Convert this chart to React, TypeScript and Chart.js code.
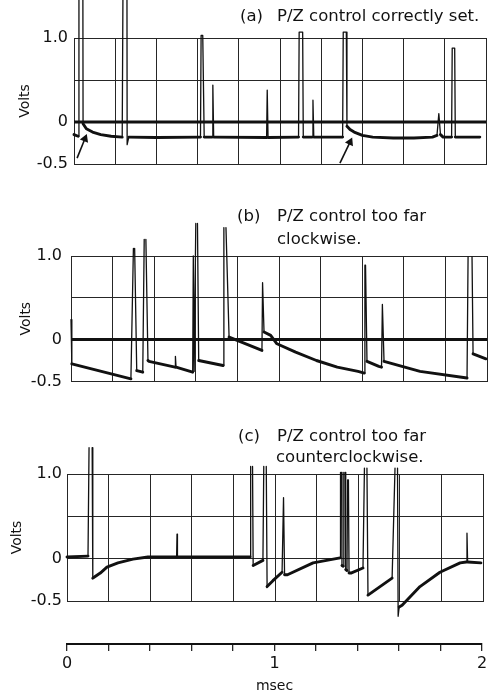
import React, { useEffect, useRef } from 'react';
import { Chart, registerables } from 'chart.js';

Chart.register(...registerables);
Chart.defaults.font.family = "'DejaVu Sans', sans-serif";

const INK = '#111111';
const GRID = '#262626';

// ---- axis ticks ----
const msecTicks = [0, 0.2, 0.4, 0.6, 0.8, 1.0, 1.2, 1.4, 1.6, 1.8, 2.0];
const msecLabels = ['0', '', '', '', '', '1', '', '', '', '', '2'];
const voltTicks = [-0.5, 0, 0.5, 1.0];
const voltLabels = ['-0.5', '0', '', '1.0'];

// ---- zero reference trace (panels a, b) ----
const baselineT = [0, 2];
const baselineV = [0, 0];

// ---- (a) P/Z control correctly set ----
const traceA_t = [0.000, 0.020, 0.024, 0.043, 0.044, 0.060, 0.090, 0.130, 0.180, 0.234, 0.238, 0.257, 0.258, 0.266, 0.400, 0.614, 0.617, 0.625, 0.632, 0.671, 0.674, 0.678, 0.935, 0.938, 0.942, 1.090, 1.093, 1.110, 1.113, 1.157, 1.160, 1.164, 1.304, 1.307, 1.322, 1.325, 1.340, 1.360, 1.400, 1.450, 1.550, 1.650, 1.740, 1.762, 1.771, 1.779, 1.792, 1.833, 1.836, 1.848, 1.851, 1.970];
const traceA_v = [-0.15, -0.17, 1.70, 1.70, -0.02, -0.08, -0.12, -0.15, -0.17, -0.18, 1.70, 1.70, -0.27, -0.18, -0.185, -0.18, 1.03, 1.03, -0.18, -0.18, 0.44, -0.18, -0.185, 0.38, -0.185, -0.18, 1.07, 1.07, -0.18, -0.18, 0.26, -0.18, -0.18, 1.07, 1.07, -0.05, -0.09, -0.12, -0.16, -0.18, -0.19, -0.19, -0.18, -0.16, 0.10, -0.15, -0.18, -0.18, 0.88, 0.88, -0.18, -0.18];
const arrowA1_t = [0.015, 0.053];
const arrowA1_v = [-0.43, -0.20];
const arrowA2_t = [1.291, 1.340];
const arrowA2_v = [-0.49, -0.24];

// ---- (b) P/Z control too far clockwise (null = faded spike top) ----
const traceB_t = [0.000, 0.004, 0.288, 0.300, 0.303, 0.306, 0.316, 0.345, 0.352, 0.356, 0.360, 0.370, 0.375, 0.500, 0.502, 0.505, 0.585, 0.588, 0.592, 0.600, 0.604, 0.608, 0.614, 0.731, 0.735, 0.740, 0.745, 0.760, 0.918, 0.921, 0.928, 0.960, 0.990, 1.080, 1.180, 1.280, 1.380, 1.410, 1.413, 1.416, 1.423, 1.480, 1.493, 1.497, 1.505, 1.678, 1.904, 1.909, 1.918, 1.928, 1.933, 1.995];
const traceB_v = [0.24, -0.29, -0.47, 1.09, null, 1.09, -0.37, -0.39, 1.20, null, 1.20, -0.25, -0.26, -0.33, -0.20, -0.33, -0.39, 1.00, -0.38, 1.39, null, 1.39, -0.25, -0.31, 1.34, null, 1.34, 0.03, -0.13, 0.68, 0.09, 0.05, -0.05, -0.15, -0.25, -0.33, -0.38, -0.40, 0.89, 0.89, -0.26, -0.32, -0.33, 0.42, -0.26, -0.38, -0.46, 0.99, null, 0.99, -0.17, -0.23];

// ---- (c) P/Z control too far counterclockwise (null = faded spike top) ----
const traceC_t = [0.000, 0.101, 0.106, 0.113, 0.121, 0.124, 0.130, 0.160, 0.192, 0.245, 0.317, 0.389, 0.527, 0.529, 0.531, 0.880, 0.883, 0.888, 0.892, 0.895, 0.942, 0.946, 0.952, 0.958, 0.962, 0.990, 1.034, 1.041, 1.046, 1.060, 1.183, 1.313, 1.315, 1.318, 1.320, 1.322, 1.328, 1.331, 1.334, 1.337, 1.340, 1.346, 1.349, 1.353, 1.356, 1.365, 1.423, 1.430, 1.436, 1.442, 1.447, 1.505, 1.563, 1.577, 1.583, 1.589, 1.592, 1.597, 1.611, 1.697, 1.793, 1.890, 1.920, 1.923, 1.926, 1.990];
const traceC_v = [0.02, 0.03, 1.31, null, 1.31, -0.23, -0.22, -0.17, -0.10, -0.05, -0.005, 0.02, 0.02, 0.29, 0.02, 0.02, 1.09, null, 1.09, -0.08, -0.02, 1.09, null, 1.09, -0.33, -0.26, -0.16, 0.72, -0.19, -0.19, -0.05, 0.01, 1.02, null, 1.02, -0.08, -0.09, 1.02, null, 1.02, -0.13, -0.14, 0.93, 0.93, -0.17, -0.17, -0.11, 1.07, null, 1.07, -0.43, -0.33, -0.23, 1.07, null, 1.07, -0.68, -0.57, -0.55, -0.33, -0.16, -0.05, -0.04, 0.30, -0.04, -0.05];

const pts = (t: number[], v: (number | null)[]) => t.map((x, i) => ({ x, y: v[i] }));

const segWidth = (ctx: any) => {
  const dx = Math.abs(ctx.p1.x - ctx.p0.x);
  const dy = Math.abs(ctx.p1.y - ctx.p0.y);
  if (dy > 2.5 * dx + 3) return 1.3;
  if (ctx.p0.parsed && ctx.p1.parsed && ctx.p0.parsed.y > 0.3 && ctx.p1.parsed.y > 0.3) return 1.3;
  return 2.9;
};

const voltLabel = (value: any) => {
  const i = voltTicks.findIndex((t) => Math.abs(t - Number(value)) < 1e-6);
  return i >= 0 ? voltLabels[i] : '';
};
const msecLabel = (value: any) => {
  const i = msecTicks.findIndex((t) => Math.abs(t - Number(value)) < 1e-6);
  return i >= 0 ? msecLabels[i] : '';
};

type Geom = { height: number; left: number; right: number; areaTop: number; areaBottom: number; labelPad: number; titlePad: number };
type Arrow = { t: number[]; v: number[]; rot: number };

function panelConfig(t: number[], v: (number | null)[], withBaseline: boolean, arrows: Arrow[], g: Geom): any {
  const datasets: any[] = [];
  if (withBaseline) {
    datasets.push({ data: pts(baselineT, baselineV), borderColor: INK, borderWidth: 3, pointRadius: 0, clip: false });
  }
  datasets.push({
    data: pts(t, v),
    borderColor: INK,
    borderWidth: 2.9,
    pointRadius: 0,
    clip: false,
    spanGaps: false,
    borderCapStyle: 'round',
    borderJoinStyle: 'round',
    segment: { borderWidth: segWidth },
  });
  arrows.forEach((a) =>
    datasets.push({
      data: pts(a.t, a.v),
      borderColor: INK,
      backgroundColor: INK,
      borderWidth: 1.6,
      pointRadius: [0, 3.5],
      pointStyle: 'triangle',
      pointRotation: a.rot,
      clip: false,
    })
  );
  return {
    type: 'line',
    data: { datasets },
    options: {
      animation: false,
      responsive: false,
      devicePixelRatio: 1,
      events: [],
      layout: { padding: { left: 0, top: g.areaTop, right: 493 - g.right, bottom: g.height - g.areaBottom } },
      plugins: { legend: { display: false }, tooltip: { enabled: false } },
      scales: {
        x: {
          type: 'linear',
          min: 0,
          max: 2,
          ticks: { display: false, stepSize: 0.2 },
          grid: { color: GRID, lineWidth: 1, drawTicks: false },
          border: { color: GRID, width: 1 },
          afterFit: (s: any) => { s.height = 0; },
        },
        y: {
          type: 'linear',
          min: -0.5,
          max: 1.0,
          ticks: { stepSize: 0.5, padding: g.labelPad, color: INK, font: { size: 16 }, callback: voltLabel },
          grid: { color: GRID, lineWidth: 1, drawTicks: false },
          border: { color: GRID, width: 1 },
          title: { display: true, text: 'Volts', color: INK, font: { size: 14 }, padding: { top: g.titlePad, bottom: 0 } },
          afterFit: (s: any) => { s.width = g.left; },
        },
      },
    },
  };
}

function axisConfig(): any {
  return {
    type: 'line',
    data: { datasets: [] },
    options: {
      animation: false,
      responsive: false,
      devicePixelRatio: 1,
      events: [],
      layout: { padding: { left: 67, top: 10, right: 11, bottom: 0 } },
      plugins: { legend: { display: false }, tooltip: { enabled: false } },
      scales: {
        x: {
          type: 'linear',
          position: 'bottom',
          min: 0,
          max: 2,
          ticks: { stepSize: 0.2, autoSkip: false, maxRotation: 0, padding: 3.5, color: INK, font: { size: 16 }, callback: msecLabel },
          grid: { drawOnChartArea: false, drawTicks: true, tickLength: 7, color: GRID, lineWidth: 1.3 },
          border: { color: INK, width: 2 },
          title: { display: true, text: 'msec', color: INK, font: { size: 14 }, padding: { top: 0, bottom: -1 } },
          afterFit: (s: any) => { s.height = 50; },
        },
        y: { display: false, min: 0, max: 1 },
      },
    },
  };
}

function ChartCanvas({ make, top, height }: { make: () => any; top: number; height: number }) {
  const ref = useRef<HTMLCanvasElement>(null);
  useEffect(() => {
    const chart = new Chart(ref.current as HTMLCanvasElement, make());
    return () => chart.destroy();
  }, []);
  return (
    <canvas
      ref={ref}
      width={493}
      height={height}
      style={{ position: 'absolute', left: 0, top, width: 493, height, display: 'block' }}
    />
  );
}

const titleStyle: React.CSSProperties = {
  position: 'absolute',
  fontFamily: "'DejaVu Sans', sans-serif",
  fontSize: '16.5px',
  lineHeight: '20px',
  color: INK,
  whiteSpace: 'nowrap',
  margin: 0,
};

function Line({ left, baseline, text }: { left: number; baseline: number; text: string }) {
  return <div style={{ ...titleStyle, left, top: baseline - 15.7 }}>{text}</div>;
}

export default function App() {
  return (
    <div style={{ position: 'absolute', left: 0, top: 0, width: 493, height: 694, background: '#fff', overflow: 'hidden' }}>
      <ChartCanvas
        top={0}
        height={180}
        make={() =>
          panelConfig(traceA_t, traceA_v, true, [
            { t: arrowA1_t, v: arrowA1_v, rot: 22 },
            { t: arrowA2_t, v: arrowA2_v, rot: 25 },
          ], { height: 180, left: 74, right: 486, areaTop: 38, areaBottom: 164, labelPad: 6, titlePad: 16.6 })
        }
      />
      <ChartCanvas
        top={200}
        height={200}
        make={() =>
          panelConfig(traceB_t, traceB_v, true, [], { height: 200, left: 71, right: 487, areaTop: 56, areaBottom: 183, labelPad: 9, titlePad: 17.6 })
        }
      />
      <ChartCanvas
        top={440}
        height={185}
        make={() =>
          panelConfig(traceC_t, traceC_v, false, [], { height: 185, left: 67, right: 483, areaTop: 34, areaBottom: 161, labelPad: 5, titlePad: 9 })
        }
      />
      <ChartCanvas top={620} height={74} make={axisConfig} />

      <Line left={240} baseline={22} text="(a)" />
      <Line left={277} baseline={22} text="P/Z control correctly set." />

      <Line left={237} baseline={222} text="(b)" />
      <Line left={277} baseline={222} text="P/Z control too far" />
      <Line left={277} baseline={245} text="clockwise." />

      <Line left={238} baseline={442} text="(c)" />
      <Line left={277} baseline={442} text="P/Z control too far" />
      <Line left={276} baseline={463} text="counterclockwise." />
    </div>
  );
}
